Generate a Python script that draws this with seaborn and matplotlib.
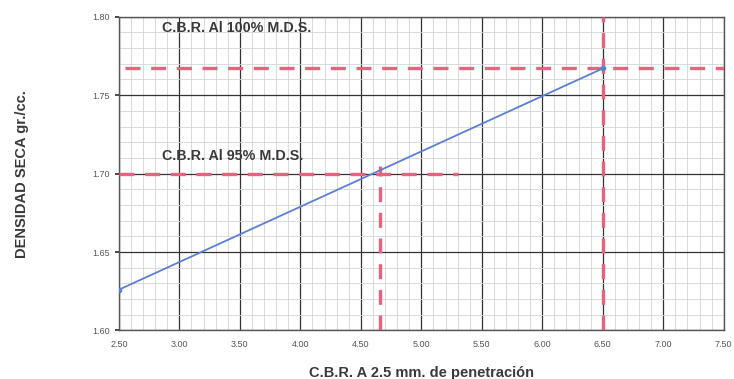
import matplotlib
matplotlib.use("Agg")
import matplotlib.pyplot as plt
import seaborn as sns
import pandas as pd
import numpy as np
from matplotlib.ticker import MultipleLocator

# Data
cbr = [2.50, 6.50]
densidad = [1.626, 1.767]
mds_100 = 1.767
mds_95 = 1.700
cbr_100 = 6.50
cbr_95 = 4.66
xticks = [2.50, 3.00, 3.50, 4.00, 4.50, 5.00, 5.50, 6.00, 6.50, 7.00, 7.50]
yticks = [1.60, 1.65, 1.70, 1.75, 1.80]
label_100 = "C.B.R. Al 100% M.D.S."
label_95 = "C.B.R. Al 95% M.D.S."

sns.set_theme(style="white")
plt.rcParams['font.family'] = ['Liberation Sans', 'DejaVu Sans']

fig = plt.figure(figsize=(7.34, 3.79), dpi=100)
ax = fig.add_axes([0.162, 0.128, 0.824, 0.828])

df = pd.DataFrame({"cbr": cbr, "densidad": densidad})

ax.set_xlim(2.5, 7.5)
ax.set_ylim(1.60, 1.80)
ax.xaxis.set_major_locator(MultipleLocator(0.5))
ax.xaxis.set_minor_locator(MultipleLocator(0.1))
ax.yaxis.set_major_locator(MultipleLocator(0.05))
ax.yaxis.set_minor_locator(MultipleLocator(0.01))
ax.grid(which="minor", color="#d4d4d4", linewidth=0.6, zorder=0)
ax.grid(which="major", color="#333333", linewidth=0.9, zorder=1)
ax.set_axisbelow(True)

# reference dashed lines
dash_kw = dict(color="#e8627e", linewidth=2.4, dashes=(4.5, 3.2), zorder=3)
ax.plot([2.55, 7.5], [mds_100, mds_100], **dash_kw)
ax.plot([cbr_100, cbr_100], [1.60, 1.80], **dash_kw)
ax.plot([2.5, 5.3], [mds_95, mds_95], **dash_kw)
ax.plot([cbr_95, cbr_95], [1.60, 1.705], **dash_kw)

sns.lineplot(data=df, x="cbr", y="densidad", ax=ax, color="#5a80d2",
             linewidth=1.3, marker="o", markersize=4, markeredgewidth=0, zorder=4)

ax.set_xticks(xticks)
ax.set_xticklabels([f"{v:.2f}" for v in xticks])
ax.set_yticks(yticks)
ax.set_yticklabels([f"{v:.2f}" for v in yticks])
ax.tick_params(axis="both", which="major", labelsize=6.5, labelcolor="#555555",
               length=3, color="#333333", direction="out", left=True, bottom=False)
ax.tick_params(axis="x", pad=4)

for s in ax.spines.values():
    s.set_color("#555555")
    s.set_linewidth(1.0)

ax.text(2.86, 1.793, label_100, fontsize=10.3, fontweight="bold", color="#3a3a3a",
        va="center", ha="left", zorder=5)
ax.text(2.86, 1.711, label_95, fontsize=10.3, fontweight="bold", color="#3a3a3a",
        va="center", ha="left", zorder=5)

ax.set_xlabel("C.B.R. A 2.5 mm. de penetración", fontsize=10.5, fontweight="bold",
              color="#3a3a3a", labelpad=12)
ax.set_ylabel("DENSIDAD SECA gr./cc.", fontsize=10.5, fontweight="bold",
              color="#3a3a3a")
ax.yaxis.set_label_coords(-0.148, 0.5)

fig.savefig("out.png", dpi=100)
